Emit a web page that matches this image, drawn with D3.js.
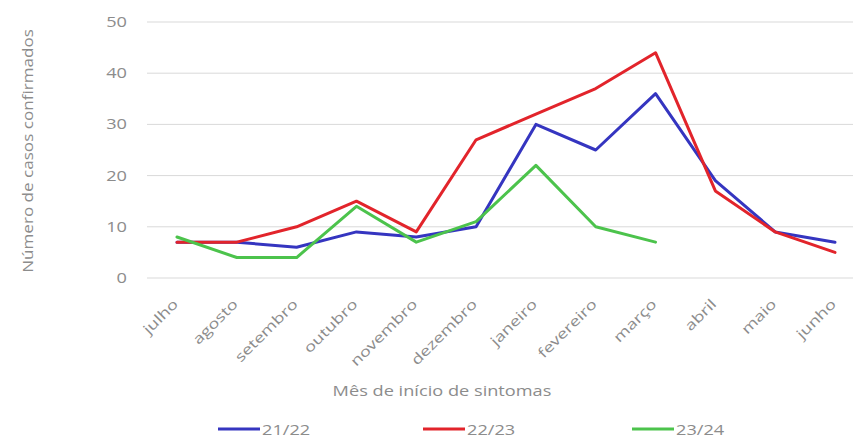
<!DOCTYPE html>
<html><head><meta charset="utf-8">
<script src="https://cdn.jsdelivr.net/npm/d3@7"></script>
<style>body{margin:0;background:#fff}svg{display:block}</style>
</head><body>
<script>
const months = ["julho","agosto","setembro","outubro","novembro","dezembro","janeiro","fevereiro","março","abril","maio","junho"];
const s2122 = [7,7,6,9,8,10,30,25,36,19,9,7];
const s2223 = [7,7,10,15,9,27,32,37,44,17,9,5];
const s2324 = [8,4,4,14,7,11,22,10,7];
const yTicks = [0,10,20,30,40,50];
const seriesNames = ["21/22","22/23","23/24"];
const colors = ["#3535c0","#e2242b","#4cc34c"];

const W=853,H=438;
const svg=d3.select("body").append("svg").attr("width",W).attr("height",H);
const font="'Open Sans', 'Liberation Sans', sans-serif";
const FS=14, SX=1.3, TC="#8c8c8c";
const x=d3.scalePoint().domain(months).range([177,835]);
const y=d3.scaleLinear().domain([0,50]).range([278,22]);

// gridlines
svg.append("g").selectAll("line").data(yTicks).join("line")
  .attr("x1",147).attr("x2",853).attr("y1",d=>y(d)).attr("y2",d=>y(d))
  .attr("stroke","#d9d9d9").attr("stroke-width",1);
// y tick labels
svg.append("g").selectAll("text").data(yTicks).join("text")
  .attr("transform",d=>`translate(127,${y(d)+5}) scale(${SX},1)`).attr("text-anchor","end")
  .attr("font-family",font).attr("font-size",FS).attr("fill",TC).text(d=>d);
// x tick labels
svg.append("g").selectAll("text").data(months).join("text")
  .attr("transform",d=>`translate(${x(d)+2},${305}) rotate(-45) scale(${SX},1)`)
  .attr("text-anchor","end")
  .attr("font-family",font).attr("font-size",FS).attr("fill",TC).text(d=>d);
// axis titles
svg.append("text").attr("transform",`translate(33,151) rotate(-90) scale(1.22,1)`).attr("text-anchor","middle")
  .attr("font-family",font).attr("font-size",FS).attr("fill",TC).text("Número de casos confirmados");
svg.append("text").attr("transform",`translate(442,396) scale(${SX},1)`).attr("text-anchor","middle")
  .attr("font-family",font).attr("font-size",FS).attr("fill",TC).text("Mês de início de sintomas");

const data=[s2122,s2223,s2324];
const line=d3.line().x((d,i)=>x(months[i])).y(d=>y(d));
data.forEach((s,k)=>{
  svg.append("path").datum(s).attr("d",line).attr("fill","none")
    .attr("stroke",colors[k]).attr("stroke-width",3).attr("stroke-linejoin","round").attr("stroke-linecap","round");
});
// legend
const legX=[218,423,632];
seriesNames.forEach((n,k)=>{
  svg.append("line").attr("x1",legX[k]).attr("x2",legX[k]+42).attr("y1",429).attr("y2",429)
    .attr("stroke",colors[k]).attr("stroke-width",3);
  svg.append("text").attr("transform",`translate(${legX[k]+44},435) scale(${SX},1)`).attr("font-family",font).attr("font-size",FS)
    .attr("fill",TC).text(n);
});
</script>
</body></html>
